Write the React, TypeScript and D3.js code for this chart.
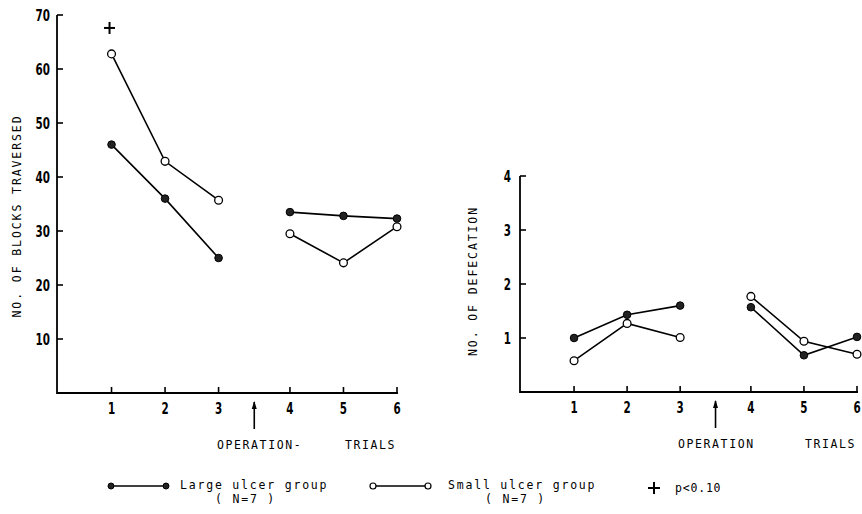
import React from "react";
import * as d3 from "d3";

const trials = [1, 2, 3, 4, 5, 6];
const blocksLarge = [46, 36, 25, 33.5, 32.8, 32.3];
const blocksSmall = [62.8, 42.9, 35.7, 29.5, 24.1, 30.8];
const defecLarge = [1.0, 1.43, 1.6, 1.57, 0.68, 1.02];
const defecSmall = [0.58, 1.27, 1.01, 1.77, 0.94, 0.7];
const blocksTicks = [10, 20, 30, 40, 50, 60, 70];
const defecTicks = [1, 2, 3, 4];
const sigTrials = [1];
const sigValues = [67.6];

const TICK_FONT = "'DejaVu Sans Condensed', 'Liberation Sans Narrow', sans-serif";
const MONO = "'DejaVu Sans Mono', 'Liberation Mono', monospace";

// trials 4-6 are shifted right to leave a gap for the operation arrow
const pos = (t: number) => t + (t >= 4 ? 1 / 3 : 0);
const opPos = 3 + 2 / 3;

type PanelProps = {
  x0: number; x1: number; yTop: number; yBase: number;
  yMax: number; ticks: number[];
  large: number[]; small: number[];
  yLabel: string; yLabelX: number; yLabelY: number; tickLabelX: number;
  opLabel: string; opX: number; trialsX: number;
  sig?: boolean;
};

function TickText({ x, y, anchor, children }: { x: number; y: number; anchor: string; children: React.ReactNode }) {
  return (
    <text transform={`translate(${x},${y}) scale(0.72,1)`} dy="0.37em" textAnchor={anchor}
      fontFamily={TICK_FONT} fontWeight="bold" fontSize={16}>{children}</text>
  );
}

function Panel(p: PanelProps) {
  const x = d3.scaleLinear().domain([0, pos(6)]).range([p.x0, p.x1]);
  const y = d3.scaleLinear().domain([0, p.yMax]).range([p.yBase, p.yTop]);
  const axisX = x(0) - 1;
  const pre = trials.filter((t) => t <= 3);
  const post = trials.filter((t) => t >= 4);
  const seg = (vals: number[], ts: number[]) =>
    d3
      .line<number>()
      .x((t) => x(pos(t)))
      .y((t) => y(vals[t - 1]))(ts) as string;
  const ax = x(opPos);
  return (
    <g>
      {/* axes */}
      <line x1={axisX} x2={axisX} y1={y(p.yMax)} y2={p.yBase + 1} stroke="#000" strokeWidth={1.8} />
      <line x1={axisX} x2={x(pos(6)) + 1} y1={p.yBase} y2={p.yBase} stroke="#000" strokeWidth={1.8} />
      {p.ticks.map((v) => (
        <g key={v}>
          <line x1={axisX} x2={axisX + 6} y1={y(v)} y2={y(v)} stroke="#000" strokeWidth={1.6} />
          <TickText x={p.tickLabelX} y={y(v)} anchor="end">{v}</TickText>
        </g>
      ))}
      {trials.map((t) => (
        <g key={t}>
          <line x1={x(pos(t))} x2={x(pos(t))} y1={p.yBase} y2={p.yBase - 6} stroke="#000" strokeWidth={1.6} />
          <TickText x={x(pos(t))} y={p.yBase + 15} anchor="middle">{t}</TickText>
        </g>
      ))}
      {/* operation arrow */}
      <line x1={ax} x2={ax} y1={p.yBase + 9} y2={p.yBase + 36} stroke="#000" strokeWidth={1.6} />
      <path d={`M${ax - 2.5},${p.yBase + 16} L${ax},${p.yBase + 8} L${ax + 2.5},${p.yBase + 16} Z`} fill="#000" />
      <text x={p.opX} y={p.yBase + 56} fontFamily={MONO} fontSize={11.5} letterSpacing={1.6}>{p.opLabel}</text>
      <text x={p.trialsX} y={p.yBase + 56} fontFamily={MONO} fontSize={11.5} letterSpacing={1.6}>TRIALS</text>
      {/* y label */}
      <text transform={`translate(${p.yLabelX},${p.yLabelY}) rotate(-90)`} textAnchor="middle"
        dy="0.36em" fontFamily={MONO} fontSize={11.5} letterSpacing={1.9}>{p.yLabel}</text>
      {/* series lines */}
      {[pre, post].map((ts, i) => (
        <g key={i}>
          <path d={seg(p.large, ts)} fill="none" stroke="#000" strokeWidth={1.6} />
          <path d={seg(p.small, ts)} fill="none" stroke="#000" strokeWidth={1.6} />
        </g>
      ))}
      {trials.map((t) => (
        <circle key={"l" + t} cx={x(pos(t))} cy={y(p.large[t - 1])} r={3.8} fill="#222" stroke="#000" strokeWidth={1} />
      ))}
      {trials.map((t) => (
        <circle key={"s" + t} cx={x(pos(t))} cy={y(p.small[t - 1])} r={3.9} fill="#fff" stroke="#000" strokeWidth={1.3} />
      ))}
      {p.sig &&
        sigTrials.map((t, i) => (
          <g key={"p" + t} transform={`translate(${x(pos(t)) - 2},${y(sigValues[i])})`}>
            <line x1={-5.5} x2={5.5} y1={0} y2={0} stroke="#000" strokeWidth={2} />
            <line x1={0} x2={0} y1={-6} y2={6} stroke="#000" strokeWidth={2} />
          </g>
        ))}
    </g>
  );
}

export default function App() {
  return (
    <svg width={862} height={514} style={{ position: "absolute", left: 0, top: 0, background: "#fff" }}>
      <rect width={862} height={514} fill="#fff" />
      <Panel x0={58} x1={397} yTop={15} yBase={393} yMax={70} ticks={blocksTicks}
        large={blocksLarge} small={blocksSmall} yLabel="NO. OF BLOCKS TRAVERSED" yLabelX={17} yLabelY={216}
        tickLabelX={50} opLabel="OPERATION-" opX={217} trialsX={345} sig />
      <Panel x0={521} x1={857} yTop={176} yBase={392} yMax={4} ticks={defecTicks}
        large={defecLarge} small={defecSmall} yLabel="NO. OF DEFECATION" yLabelX={473} yLabelY={281}
        tickLabelX={511} opLabel="OPERATION" opX={678} trialsX={805} />
      {/* legend */}
      <g fontFamily={MONO} fontSize={11.5} letterSpacing={1.8}>
        <line x1={111} x2={166} y1={486} y2={486} stroke="#000" strokeWidth={1.6} />
        <circle cx={111} cy={486} r={3} fill="#222" stroke="#000" />
        <circle cx={166} cy={486} r={3} fill="#222" stroke="#000" />
        <text x={180} y={489}>Large ulcer group</text>
        <text x={215} y={503} style={{ whiteSpace: "pre" }}>{"( N=7 )"}</text>
        <line x1={373} x2={428} y1={486} y2={486} stroke="#000" strokeWidth={1.6} />
        <circle cx={373} cy={486} r={3} fill="#fff" stroke="#000" strokeWidth={1.2} />
        <circle cx={428} cy={486} r={3} fill="#fff" stroke="#000" strokeWidth={1.2} />
        <text x={448} y={489}>Small ulcer group</text>
        <text x={485} y={503} style={{ whiteSpace: "pre" }}>{"( N=7 )"}</text>
        <line x1={648} x2={660} y1={488} y2={488} stroke="#000" strokeWidth={2} />
        <line x1={654} x2={654} y1={482} y2={494} stroke="#000" strokeWidth={2} />
        <text x={675} y={492} letterSpacing={0.8}>p&lt;0.10</text>
      </g>
    </svg>
  );
}
